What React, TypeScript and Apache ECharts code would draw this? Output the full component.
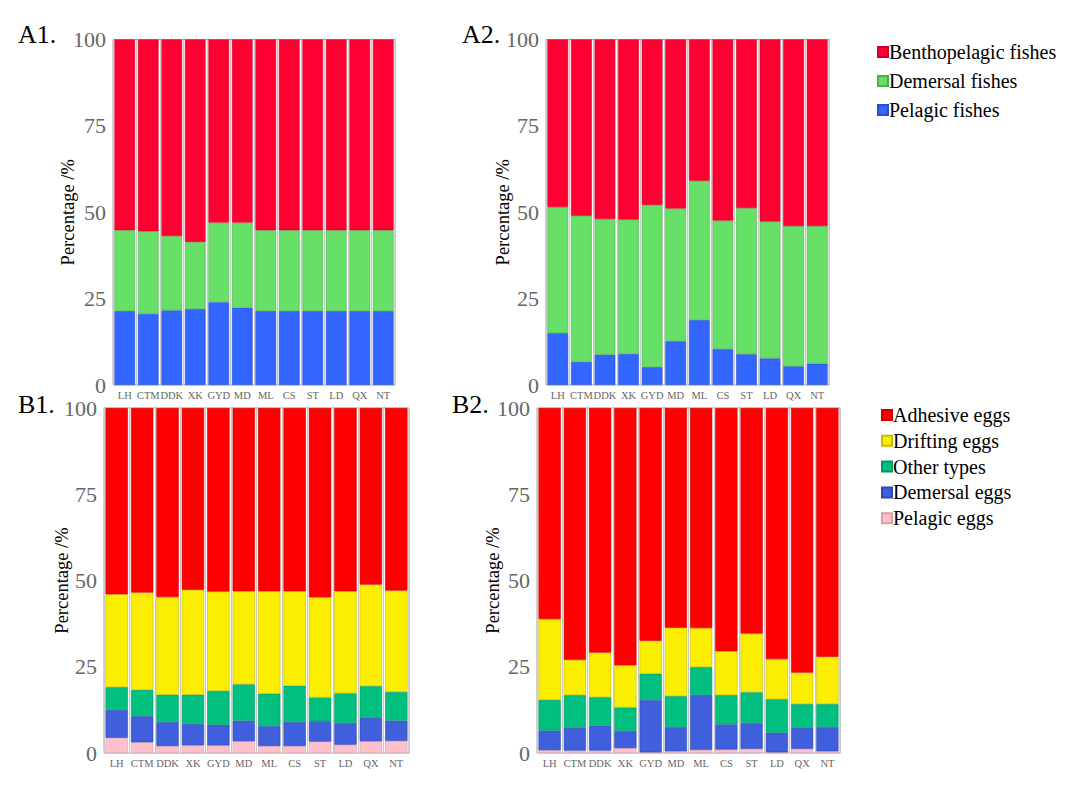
import React, { useEffect, useRef } from "react";
import * as echarts from "echarts";

const sites = ["LH", "CTM", "DDK", "XK", "GYD", "MD", "ML", "CS", "ST", "LD", "QX", "NT"];
const yTicks = [0, 25, 50, 75, 100];

// A1 (percent)
const a1Pelagic = [21.4, 20.6, 21.6, 22.0, 24.0, 22.4, 21.4, 21.4, 21.4, 21.4, 21.4, 21.4];
const a1Demersal = [23.4, 23.9, 21.5, 19.4, 23.0, 24.6, 23.4, 23.4, 23.4, 23.4, 23.4, 23.4];
const a1Bentho = [55.2, 55.5, 56.9, 58.6, 53.0, 53.0, 55.2, 55.2, 55.2, 55.2, 55.2, 55.2];

// A2
const a2Pelagic = [15.0, 6.7, 8.8, 9.0, 5.2, 12.7, 18.8, 10.4, 8.9, 7.7, 5.4, 6.2];
const a2Demersal = [36.5, 42.3, 39.2, 38.9, 46.9, 38.4, 40.3, 37.2, 42.3, 39.6, 40.6, 39.8];
const a2Bentho = [48.5, 51.0, 52.0, 52.1, 47.9, 48.9, 40.9, 52.4, 48.8, 52.7, 54.0, 54.0];

// B1
const b1Pelagic = [4.4, 3.1, 2.0, 2.2, 2.2, 3.4, 2.0, 2.0, 3.3, 2.4, 3.4, 3.5];
const b1Demersal = [8.1, 7.6, 7.0, 6.2, 6.0, 6.0, 5.8, 7.0, 5.9, 6.3, 6.8, 5.9];
const b1Other = [6.6, 7.6, 7.9, 8.5, 9.8, 10.5, 9.4, 10.5, 6.9, 8.6, 9.2, 8.3];
const b1Drifting = [26.9, 28.2, 28.3, 30.4, 28.8, 27.0, 29.7, 27.4, 29.0, 29.6, 29.4, 29.4];
const b1Adhesive = [54.0, 53.5, 54.8, 52.7, 53.2, 53.1, 53.1, 53.1, 54.9, 53.1, 51.2, 52.9];

// B2
const b2Pelagic = [0.8, 0.7, 0.7, 1.4, 0.2, 0.5, 0.9, 1.0, 1.2, 0.2, 1.2, 0.5];
const b2Demersal = [5.7, 6.6, 7.2, 5.0, 15.2, 7.0, 15.9, 7.3, 7.5, 5.7, 6.1, 7.0];
const b2Other = [8.9, 9.5, 8.3, 6.8, 7.6, 9.0, 8.1, 8.5, 8.9, 9.7, 6.9, 6.7];
const b2Drifting = [23.4, 10.2, 12.9, 12.2, 9.5, 19.8, 11.3, 12.7, 17.0, 11.6, 9.1, 13.7];
const b2Adhesive = [61.2, 73.0, 70.9, 74.6, 67.5, 63.7, 63.8, 70.5, 65.4, 72.8, 76.7, 72.1];

const C = {
  bentho: "#FF0033",
  demF: "#66E066",
  pelF: "#3366FF",
  adh: "#FF0000",
  drift: "#FCEE00",
  other: "#00BF7F",
  demE: "#3F5FDD",
  pelE: "#FFC0CB",
};
const B = {
  bentho: "#cc0029",
  demF: "#4cb04c",
  pelF: "#2850cc",
  adh: "#cc0000",
  drift: "#c8bc00",
  other: "#009966",
  demE: "#3048b0",
  pelE: "#d8a0aa",
};

const SERIF = "'Liberation Serif', 'DejaVu Serif', serif";

export default function App() {
  const ref = useRef<HTMLDivElement>(null);
  useEffect(() => {
    if (!ref.current) return;
    const chart = echarts.init(ref.current, undefined, { renderer: "svg" });
    const grids = [
      { left: 113, top: 39.5, width: 282, height: 345.5 },
      { left: 546, top: 39.5, width: 283, height: 345.5 },
      { left: 104, top: 408, width: 305, height: 345 },
      { left: 537, top: 408, width: 303, height: 345 },
    ].map((g) => ({ ...g, show: true, borderColor: "#a8a8a8", borderWidth: 1, backgroundColor: "transparent" }));
    const gaps = [36, 34, 33, 35];

    const xAxes = grids.map((_, i) => ({
      type: "category",
      gridIndex: i,
      data: sites,
      axisLine: { show: false },
      axisTick: { show: false },
      splitLine: { show: true, lineStyle: { color: "#c8c8c8", width: 1 } },
      axisLabel: { interval: 0, fontFamily: SERIF, fontSize: 10.5, color: "#666", margin: 5 },
    }));
    const yAxes = grids.map((_, i) => ({
      type: "value",
      gridIndex: i,
      min: yTicks[0],
      max: yTicks[yTicks.length - 1],
      interval: 25,
      name: "Percentage /%",
      nameLocation: "middle",
      nameGap: gaps[i],
      nameMoveOverlap: false,
      nameTextStyle: { fontFamily: SERIF, fontSize: 18.5, color: "#000" },
      axisLine: { show: false },
      axisTick: { show: false },
      splitLine: { show: false },
      axisLabel: { fontFamily: SERIF, fontSize: 22, color: "#666", margin: 7 },
    }));

    const mk = (name: string, data: number[], idx: number, key: keyof typeof C) => ({
      name,
      type: "bar",
      stack: "s" + idx,
      xAxisIndex: idx,
      yAxisIndex: idx,
      data,
      barCategoryGap: "12%",
      itemStyle: { color: C[key], borderColor: B[key], borderWidth: 0.6 },
      emphasis: { disabled: true },
    });

    const series = [
      mk("Pelagic fishes", a1Pelagic, 0, "pelF"),
      mk("Demersal fishes", a1Demersal, 0, "demF"),
      mk("Benthopelagic fishes", a1Bentho, 0, "bentho"),
      mk("Pelagic fishes", a2Pelagic, 1, "pelF"),
      mk("Demersal fishes", a2Demersal, 1, "demF"),
      mk("Benthopelagic fishes", a2Bentho, 1, "bentho"),
      mk("Pelagic eggs", b1Pelagic, 2, "pelE"),
      mk("Demersal eggs", b1Demersal, 2, "demE"),
      mk("Other types", b1Other, 2, "other"),
      mk("Drifting eggs", b1Drifting, 2, "drift"),
      mk("Adhesive eggs", b1Adhesive, 2, "adh"),
      mk("Pelagic eggs", b2Pelagic, 3, "pelE"),
      mk("Demersal eggs", b2Demersal, 3, "demE"),
      mk("Other types", b2Other, 3, "other"),
      mk("Drifting eggs", b2Drifting, 3, "drift"),
      mk("Adhesive eggs", b2Adhesive, 3, "adh"),
    ];

    const legendBase = {
      orient: "vertical",
      icon: "rect",
      itemWidth: 10,
      itemHeight: 10,
      selectedMode: false,
      textStyle: { fontFamily: SERIF, fontSize: 20, color: "#000", padding: [0, 0, 0, -4] },
    };

    chart.setOption({
      animation: false,
      backgroundColor: "#fff",
      grid: grids,
      xAxis: xAxes,
      yAxis: yAxes,
      series,
      legend: [
        {
          ...legendBase,
          left: 872,
          top: 37,
          itemGap: 9,
          data: ["Benthopelagic fishes", "Demersal fishes", "Pelagic fishes"],
        },
        {
          ...legendBase,
          left: 876,
          top: 400,
          itemGap: 5.8,
          data: ["Adhesive eggs", "Drifting eggs", "Other types", "Demersal eggs", "Pelagic eggs"],
        },
      ],
      graphic: [
        { type: "text", left: 18, top: 21, style: { text: "A1.", fontFamily: SERIF, fontSize: 26, fill: "#000" } },
        { type: "text", left: 462, top: 21, style: { text: "A2.", fontFamily: SERIF, fontSize: 26, fill: "#000" } },
        { type: "text", left: 18, top: 391, style: { text: "B1.", fontFamily: SERIF, fontSize: 26, fill: "#000" } },
        { type: "text", left: 452, top: 391, style: { text: "B2.", fontFamily: SERIF, fontSize: 26, fill: "#000" } },
      ],
    });
    return () => chart.dispose();
  }, []);
  return (
    <div
      ref={ref}
      style={{ position: "fixed", left: 0, top: 0, width: 1080, height: 796, background: "#fff" }}
    />
  );
}
